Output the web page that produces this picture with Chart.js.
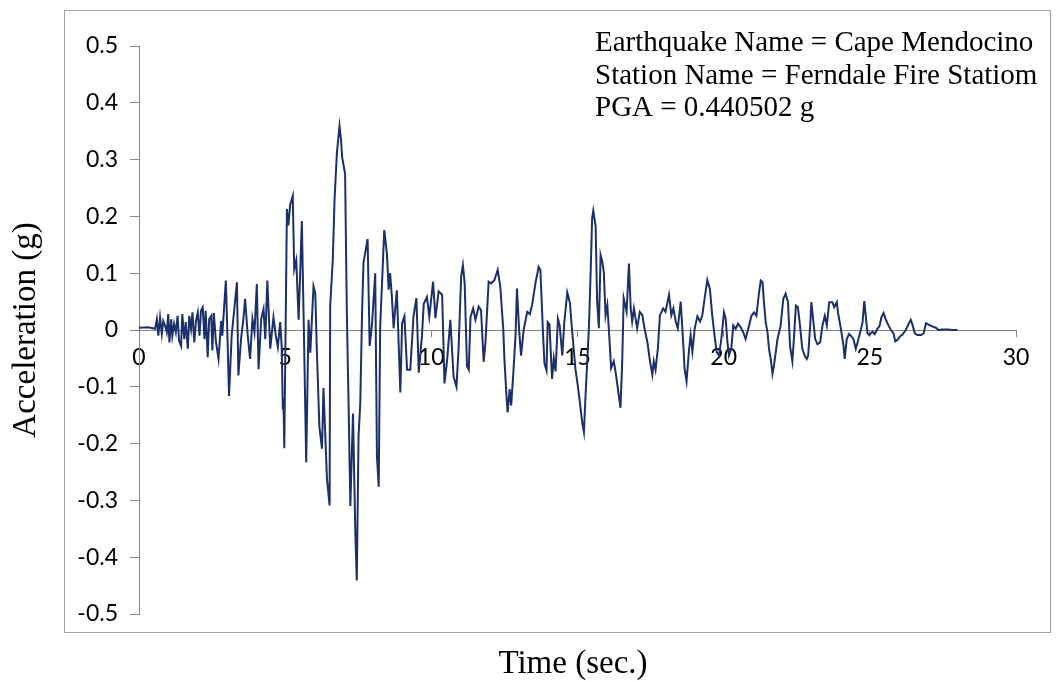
<!DOCTYPE html>
<html>
<head>
<meta charset="utf-8">
<title>Cape Mendocino - Ferndale</title>
<script src="https://cdn.jsdelivr.net/npm/chart.js@4.4.1/dist/chart.umd.min.js"></script>
<style>
  html, body { margin: 0; padding: 0; background: #fff; }
  #wrap { width: 1062px; height: 682px; }
</style>
</head>
<body>
<div id="wrap"><canvas id="accelChart" width="1062" height="682"></canvas></div>
<script>
// Accelerogram: time (s) and acceleration (g), peaks/troughs of the record
const timeSec = [
  0, 0.31, 0.48, 0.55, 0.61, 0.66, 0.72, 0.78, 0.83, 0.89, 0.95,
  1.00, 1.04, 1.10, 1.14, 1.20, 1.26, 1.32, 1.37, 1.44, 1.48, 1.55, 1.60, 1.67, 1.72, 1.78, 1.83, 1.89, 1.95,
  2.01, 2.07, 2.12, 2.18, 2.24, 2.28, 2.35, 2.40, 2.47, 2.51, 2.56, 2.63, 2.72, 2.81, 2.85, 2.97,
  3.01, 3.08, 3.17, 3.26, 3.35, 3.40, 3.49, 3.57, 3.63, 3.72, 3.80, 3.88, 3.95,
  4.03, 4.09, 4.18, 4.26, 4.32, 4.39, 4.49, 4.60, 4.68, 4.75, 4.83, 4.88, 4.92, 4.94, 4.97,
  5.06, 5.11, 5.17, 5.26, 5.31, 5.38, 5.46, 5.51, 5.57, 5.65, 5.72, 5.80, 5.86, 5.97,
  6.03, 6.08, 6.17, 6.26, 6.31, 6.43, 6.52, 6.54, 6.63, 6.69, 6.77, 6.86, 6.91, 6.95,
  7.05, 7.11, 7.17, 7.23, 7.32, 7.40, 7.45, 7.51, 7.57, 7.63, 7.68, 7.82, 7.89, 7.97,
  8.08, 8.14, 8.20, 8.25, 8.39, 8.48, 8.54, 8.59, 8.65, 8.71, 8.77, 8.82, 8.94,
  9.00, 9.08, 9.17, 9.28, 9.39, 9.49, 9.57, 9.68, 9.74, 9.85, 9.93,
  10.06, 10.14, 10.25, 10.37, 10.45, 10.54, 10.65, 10.76, 10.86, 10.93,
  11.02, 11.08, 11.14, 11.22, 11.28, 11.34, 11.43, 11.51, 11.62, 11.70, 11.79, 11.85, 11.96,
  12.05, 12.16, 12.27, 12.36, 12.46, 12.50, 12.57, 12.61, 12.68, 12.73, 12.80, 12.88, 12.93,
  13.00, 13.07, 13.16, 13.28, 13.37, 13.45, 13.56, 13.67, 13.73, 13.82, 13.87, 13.94, 13.98,
  14.04, 14.13, 14.19, 14.25, 14.33, 14.39, 14.48, 14.55, 14.65, 14.74, 14.82, 14.93,
  15.01, 15.08, 15.16, 15.22, 15.27, 15.39, 15.45, 15.50, 15.54, 15.62, 15.67, 15.73, 15.79, 15.85, 15.90, 15.96,
  16.02, 16.07, 16.15, 16.24, 16.30, 16.41, 16.47, 16.53, 16.58, 16.68, 16.76, 16.82, 16.87, 16.93,
  17.04, 17.13, 17.22, 17.29, 17.39, 17.48, 17.56, 17.61, 17.67, 17.75, 17.82, 17.93,
  18.01, 18.13, 18.21, 18.28, 18.36, 18.43, 18.53, 18.62, 18.66, 18.73, 18.81, 18.87, 18.93,
  19.01, 19.10, 19.19, 19.27, 19.35, 19.44, 19.53, 19.61, 19.69, 19.76, 19.84, 19.92,
  20.01, 20.07, 20.13, 20.18, 20.26, 20.33, 20.41, 20.49, 20.58, 20.67, 20.75, 20.87, 20.95,
  21.04, 21.12, 21.21, 21.27, 21.33, 21.38, 21.44, 21.50, 21.55, 21.61, 21.67, 21.72, 21.84, 21.95,
  22.04, 22.12, 22.20, 22.27, 22.35, 22.41, 22.47, 22.54, 22.61, 22.69, 22.77, 22.84, 22.89, 22.96,
  23.00, 23.06, 23.13, 23.21, 23.30, 23.38, 23.46, 23.53, 23.61, 23.72, 23.78, 23.87, 23.91,
  24.01, 24.10, 24.14, 24.21, 24.29, 24.35, 24.44, 24.52, 24.58, 24.67, 24.75, 24.81, 24.86, 24.92, 24.98,
  25.09, 25.17, 25.26, 25.33, 25.40, 25.47, 25.55, 25.63, 25.72, 25.81, 25.87, 25.95,
  26.04, 26.12, 26.23, 26.31, 26.40, 26.46, 26.54, 26.63, 26.75, 26.84, 26.92,
  27.03, 27.15, 27.26, 27.34, 27.49, 27.66, 27.83, 28.00
];
const accelG = [
  0.004, 0.005, 0.003, 0.002, 0.019, -0.010, 0.022, -0.007, 0.016, 0.008, -0.004,
  0.028, -0.022, 0.019, -0.010, 0.011, -0.004, 0.025, -0.019, -0.028, 0.028, -0.016, 0.014, -0.033, 0.025, 0.002, 0.031, -0.022, 0.016,
  0.031, -0.010, 0.034, 0.040, -0.016, 0.034, -0.048, 0.019, 0.025, -0.036, 0.030, -0.020, -0.051, 0.016, -0.010, 0.087,
  0.019, -0.116, -0.010, 0.037, 0.084, -0.080, -0.016, 0.019, 0.055, -0.010, -0.051, 0.019, -0.004,
  0.081, -0.069, 0.019, 0.037, -0.016, 0.087, -0.033, 0.022, -0.010, -0.030, 0.014, -0.028, -0.140, -0.120, -0.208,
  0.213, 0.184, 0.220, 0.236, 0.107, 0.123, 0.018, 0.094, 0.192, -0.028, -0.233, 0.018, -0.040, 0.077,
  0.065, -0.029, -0.170, -0.209, -0.102, -0.262, -0.309, 0.042, 0.125, 0.231, 0.312, 0.359, 0.335, 0.304,
  0.275, 0.030, -0.134, -0.310, -0.147, -0.357, -0.441, -0.187, -0.128, 0.030, 0.119, 0.160, -0.028, 0.010,
  0.100, -0.223, -0.276, 0.006, 0.176, 0.135, 0.071, 0.100, 0.059, 0.003, 0.040, 0.070, -0.110,
  0.012, 0.024, -0.070, -0.070, 0.024, 0.056, -0.075, -0.010, 0.046, 0.058, 0.023,
  0.085, 0.021, 0.068, 0.062, -0.094, -0.053, 0.018, -0.082, -0.100, -0.035,
  0.094, 0.114, 0.082, -0.064, -0.070, 0.023, 0.038, 0.018, 0.041, 0.035, -0.056, -0.023, 0.085,
  0.082, 0.088, 0.106, 0.076, 0.002, -0.051, -0.116, -0.145, -0.104, -0.133, -0.080, -0.010, 0.073,
  0.002, -0.045, 0.001, 0.032, 0.028, 0.045, 0.082, 0.111, 0.106, -0.006, -0.059, -0.071, 0.014,
  0.010, -0.086, -0.050, -0.073, 0.020, 0.008, -0.045, 0.014, 0.066, 0.048, -0.004, -0.069,
  -0.098, -0.127, -0.162, -0.180, -0.121, 0.003, 0.102, 0.196, 0.210, 0.183, 0.053, 0.003, 0.132, 0.120, 0.102, 0.026,
  0.044, 0.003, -0.067, -0.055, -0.073, -0.114, -0.137, -0.055, 0.056, 0.032, 0.117, 0.038, 0.015, 0.038,
  0.003, 0.032, 0.026, 0.003, -0.021, -0.055, -0.079, -0.055, -0.070, -0.032, 0.026, 0.038,
  0.032, 0.062, 0.026, 0.038, 0.015, 0.003, 0.050, -0.026, -0.067, -0.090, -0.038, -0.009, -0.038,
  0.003, 0.024, 0.015, 0.026, 0.056, 0.088, 0.072, 0.025, -0.010, -0.039, -0.045, -0.016,
  0.031, 0.019, -0.022, -0.045, -0.033, 0.008, 0.002, 0.011, 0.005, -0.004, -0.016, 0.008, 0.025,
  0.031, 0.025, 0.066, 0.087, 0.084, 0.048, 0.013, -0.004, -0.033, -0.051, -0.077, -0.063, -0.016, 0.008,
  0.055, 0.064, 0.049, -0.028, -0.055, -0.010, 0.043, 0.040, 0.008, -0.033, -0.045, -0.051, -0.045, 0.008,
  0.049, 0.019, -0.016, -0.025, -0.022, 0.008, 0.025, 0.008, 0.049, 0.049, 0.040, 0.049, 0.031,
  0.002, -0.028, -0.051, -0.016, -0.007, -0.010, -0.016, -0.033, -0.022, -0.004, 0.013, 0.051, 0.025, -0.006, -0.009,
  -0.003, -0.007, 0.002, 0.007, 0.023, 0.030, 0.018, 0.009, 0.000, -0.006, -0.020, -0.017,
  -0.011, -0.008, 0.000, 0.009, 0.018, 0.009, -0.006, -0.009, -0.009, -0.006, 0.012,
  0.009, 0.006, 0.004, 0.000, 0.001, 0.001, 0.000, 0.000
];

const xTickValues = [0, 5, 10, 15, 20, 25, 30];
const yTickValues = [-0.5, -0.4, -0.3, -0.2, -0.1, 0, 0.1, 0.2, 0.3, 0.4, 0.5];
const yTickLabels = ['-0.5', '-0.4', '-0.3', '-0.2', '-0.1', '0', '0.1', '0.2', '0.3', '0.4', '0.5'];

const infoLines = [
  'Earthquake Name = Cape Mendocino',
  'Station Name = Ferndale Fire Statiom',
  'PGA = 0.440502 g'
];
const xTitle = 'Time (sec.)';
const yTitle = 'Acceleration (g)';

const lineColor = '#1b2f6c';
const axisColor = '#868686';
const serif = '"Liberation Serif", "Times New Roman", serif';

// white background, plot frame, info text and the time axis title
const framePlugin = {
  id: 'frame',
  beforeDraw(chart) {
    const ctx = chart.ctx;
    ctx.save();
    ctx.fillStyle = '#fff';
    ctx.fillRect(0, 0, chart.width, chart.height);
    ctx.strokeStyle = '#a0a0a0';
    ctx.lineWidth = 1;
    ctx.strokeRect(64.5, 10.5, 986, 622);
    ctx.restore();
  },
  afterDraw(chart) {
    const ctx = chart.ctx;
    ctx.save();
    ctx.fillStyle = '#000';
    ctx.font = '29px ' + serif;
    ctx.textAlign = 'left';
    ctx.textBaseline = 'alphabetic';
    infoLines.forEach((line, i) => ctx.fillText(line, 595, 51 + i * 32.5));

    ctx.textAlign = 'center';
    ctx.font = '33px ' + serif;
    ctx.fillText(xTitle, 573, 673);
    ctx.restore();
  }
};

const points = timeSec.map((t, i) => ({ x: t, y: accelG[i] }));

new Chart(document.getElementById('accelChart'), {
  type: 'line',
  data: {
    datasets: [{
      data: points,
      borderColor: lineColor,
      borderWidth: 2,
      pointRadius: 0,
      tension: 0,
      fill: false
    }]
  },
  plugins: [framePlugin],
  options: {
    responsive: false,
    devicePixelRatio: 1,
    animation: false,
    layout: { padding: { left: 0, right: 46, top: 46, bottom: 68 } },
    plugins: {
      legend: { display: false },
      tooltip: { enabled: false }
    },
    scales: {
      x: {
        type: 'linear',
        min: 0,
        max: 30,
        position: { y: 0 },
        afterBuildTicks: scale => { scale.ticks = xTickValues.map(v => ({ value: v })); },
        ticks: {
          font: { family: 'Lato', size: 23 },
          color: '#000',
          padding: 8,
          maxRotation: 0,
          autoSkip: false
        },
        grid: { drawOnChartArea: false, tickLength: 6, color: axisColor },
        border: { color: axisColor }
      },
      y: {
        type: 'linear',
        min: -0.5,
        max: 0.5,
        afterBuildTicks: scale => { scale.ticks = yTickValues.map(v => ({ value: v })); },
        afterFit: scale => { scale.width = 139; },
        ticks: {
          callback: value => yTickLabels[yTickValues.indexOf(value)],
          font: { family: 'Lato', size: 23 },
          color: '#000',
          padding: 12
        },
        grid: { drawOnChartArea: false, tickLength: 9, color: axisColor },
        border: { color: axisColor },
        title: {
          display: true,
          text: yTitle,
          color: '#000',
          font: { family: 'Liberation Serif', size: 33 },
          padding: { top: 7, bottom: 0 }
        }
      }
    }
  }
});
</script>
</body>
</html>
